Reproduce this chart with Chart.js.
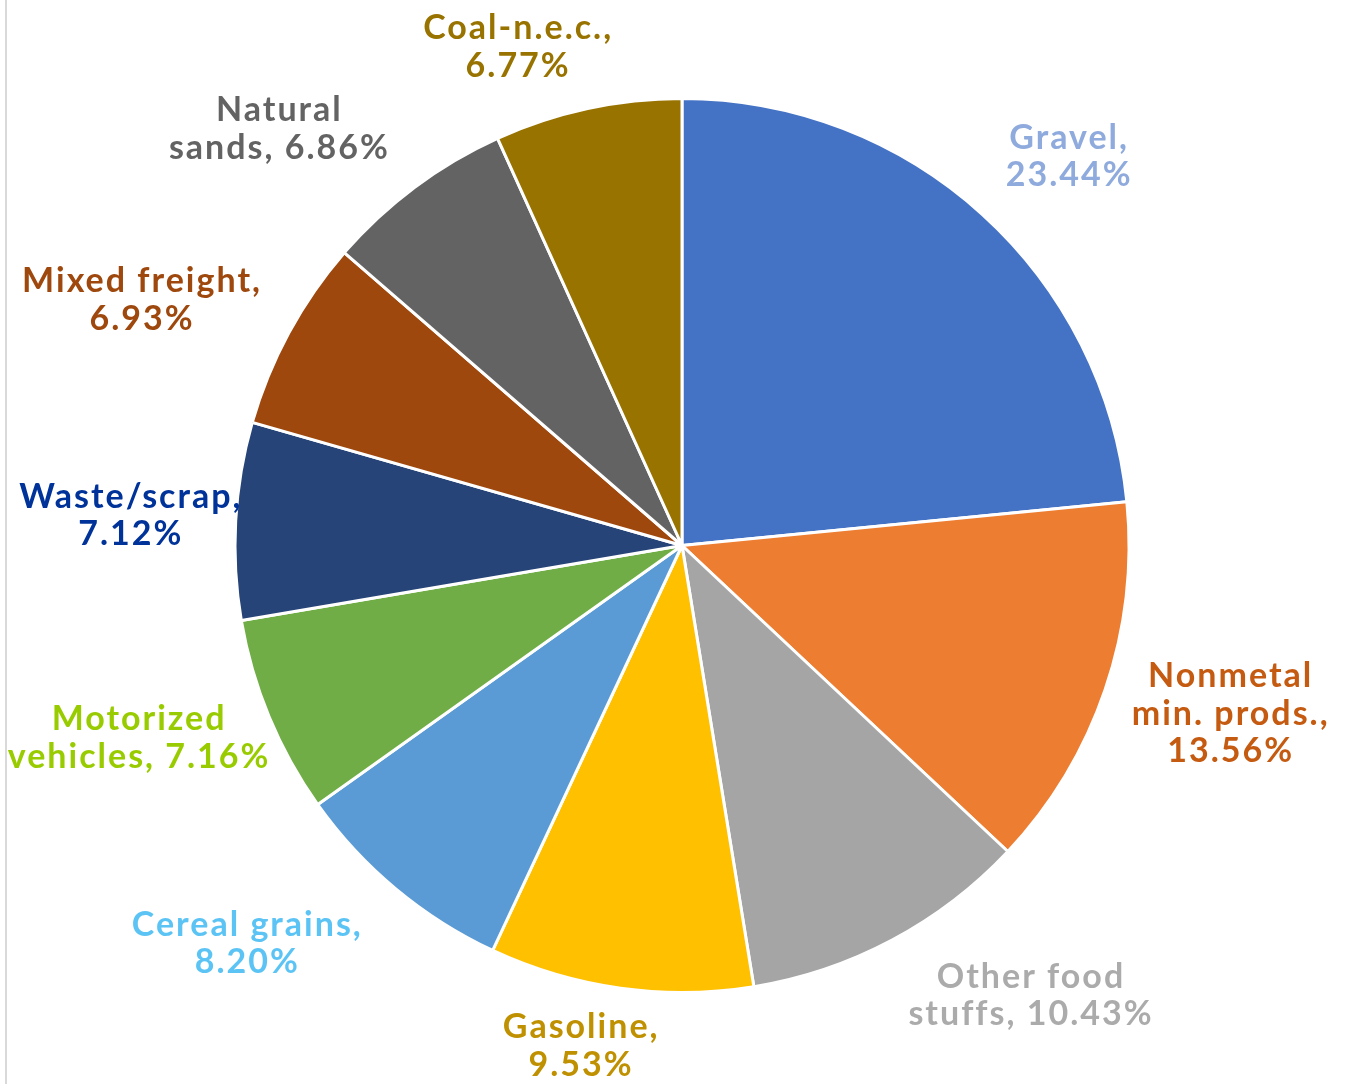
<!DOCTYPE html>
<html>
<head>
<meta charset="utf-8">
<script src="https://cdn.jsdelivr.net/npm/chart.js@4.4.1/dist/chart.umd.min.js"></script>
<style>
  html, body { margin: 0; padding: 0; background: #fff; }
  #wrap { position: relative; width: 1353px; height: 1084px; }
  #edge { position: absolute; left: 5px; top: 0; width: 2px; height: 1084px; background: #d9d9d9; }
</style>
</head>
<body>
<div id="wrap">
  <canvas id="pie" width="1353" height="1084"></canvas>
  <div id="edge"></div>
</div>
<script>
// data
const categories = ['Gravel', 'Nonmetal min. prods.', 'Other food stuffs', 'Gasoline', 'Cereal grains',
    'Motorized vehicles', 'Waste/scrap', 'Mixed freight', 'Natural sands', 'Coal-n.e.c.'];
const shares = [23.44, 13.56, 10.43, 9.53, 8.20, 7.16, 7.12, 6.93, 6.86, 6.77];

// how each label is broken into lines
const labelLines = [
    ['Gravel,', '23.44%'],
    ['Nonmetal', 'min. prods.,', '13.56%'],
    ['Other food', 'stuffs, 10.43%'],
    ['Gasoline,', '9.53%'],
    ['Cereal grains,', '8.20%'],
    ['Motorized', 'vehicles, 7.16%'],
    ['Waste/scrap,', '7.12%'],
    ['Mixed freight,', '6.93%'],
    ['Natural', 'sands, 6.86%'],
    ['Coal-n.e.c.,', '6.77%']
];

const sliceColors = ['#4472C4', '#ED7D31', '#A5A5A5', '#FFC000', '#5B9BD5',
    '#70AD47', '#264478', '#9E480E', '#636363', '#997300'];
const labelColors = ['#8FAADC', '#C55A11', '#ABABAB', '#BF9000', '#5BC4F5',
    '#99CC00', '#003399', '#9E480E', '#636363', '#997300'];

// label anchor: angle from top (deg, clockwise) and distance from the pie centre
const labelAngle = [44.8, 107.1, 142.3, 191.5, 227.6, 250.5, 273.1, 294.4, 315.9, 341.7];
const labelDist = [548, 573, 569, 511, 590, 577, 553, 594, 580, 525];

const outsideLabels = {
    id: 'outsideLabels',
    afterDatasetsDraw(chart) {
        const ctx = chart.ctx;
        const arc = chart.getDatasetMeta(0).data[0];
        const cx = arc.x, cy = arc.y;
        const lineH = 37.5;
        const spacing = 2;
        ctx.save();
        ctx.font = 'bold 34px Lato';
        ctx.letterSpacing = spacing + 'px';
        ctx.textAlign = 'center';
        ctx.textBaseline = 'middle';
        labelLines.forEach((lines, i) => {
            const a = labelAngle[i] * Math.PI / 180;
            const x = cx + labelDist[i] * Math.sin(a) + spacing / 2;
            const y = cy - labelDist[i] * Math.cos(a);
            ctx.fillStyle = labelColors[i];
            const top = y - (lines.length - 1) * lineH / 2;
            lines.forEach((t, j) => ctx.fillText(t, x, top + j * lineH));
        });
        ctx.restore();
    }
};

const chart = new Chart(document.getElementById('pie').getContext('2d'), {
    type: 'pie',
    data: {
        labels: categories,
        datasets: [{
            data: shares,
            backgroundColor: sliceColors,
            borderColor: '#ffffff',
            borderWidth: 3
        }]
    },
    options: {
        responsive: false,
        animation: false,
        layout: { padding: { top: 97, bottom: 90, left: 200, right: 189 } },
        plugins: {
            legend: { display: false },
            tooltip: { enabled: false }
        }
    },
    plugins: [outsideLabels]
});
</script>
</body>
</html>
